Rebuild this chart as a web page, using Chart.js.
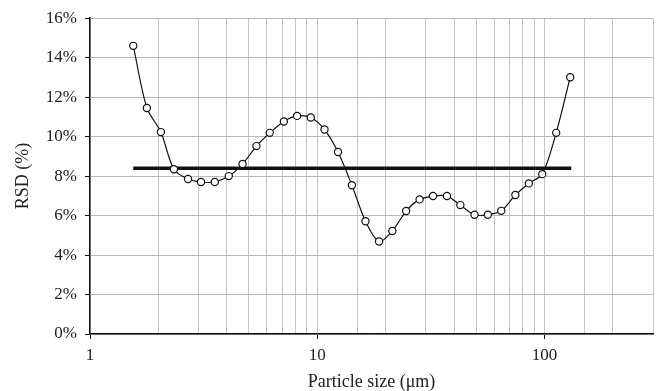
<!DOCTYPE html>
<html>
<head>
<meta charset="utf-8">
<script src="https://cdn.jsdelivr.net/npm/chart.js@4/dist/chart.umd.min.js"></script>
<style>
  html, body { margin: 0; padding: 0; background: #fff; }
  #wrap { width: 659px; height: 391px; position: relative; }
</style>
</head>
<body>
<div id="wrap"><canvas id="myChart"></canvas></div>
<script>
// particle size (um) and RSD (%)
const sizes = [1.55, 1.78, 2.05, 2.34, 2.70, 3.08, 3.54, 4.08, 4.69, 5.40, 6.18, 7.13, 8.15, 9.36,
  10.76, 12.34, 14.2, 16.3, 18.7, 21.4, 24.6, 28.2, 32.3, 37.2, 42.6, 49.2, 56.3, 64.5, 74.4, 85.3,
  97.7, 112.5, 129.7]
const rsd = [14.6, 11.45, 10.23, 8.35, 7.85, 7.7, 7.7, 8.0, 8.61, 9.52, 10.19, 10.77, 11.05, 10.97,
  10.36, 9.22, 7.54, 5.71, 4.69, 5.22, 6.23, 6.82, 6.99, 6.99, 6.53, 6.04, 6.04, 6.24, 7.04, 7.63,
  8.1, 10.19, 13.01]
const meanRsd = 8.4
const meanRange = [1.55, 131]
const xLabels = [1, 10, 100]

;(function() {
  const ctx = document.getElementById('myChart').getContext('2d')
  const serif = "'Liberation Serif', 'Times New Roman', serif"

  let chart = new Chart(ctx, {
    type: 'scatter',
    data: {
      datasets: [
        {
          label: 'RSD',
          data: sizes.map((s, i) => ({ x: s, y: rsd[i] })),
          showLine: true,
          borderColor: '#111',
          borderWidth: 1.2,
          tension: 0.3,
          pointRadius: 3.6,
          pointBorderWidth: 1.2,
          pointBackgroundColor: '#fff',
          pointBorderColor: '#111'
        },
        {
          label: 'mean',
          data: meanRange.map(x => ({ x: x, y: meanRsd })),
          showLine: true,
          borderColor: '#111',
          borderWidth: 3.5,
          pointRadius: 0
        }
      ]
    },
    options: {
      responsive: true,
      maintainAspectRatio: false,
      animation: false,
      layout: { padding: { top: 18, right: 5, left: 0, bottom: 0 } },
      plugins: { legend: { display: false }, tooltip: { enabled: false } },
      scales: {
        x: {
          type: 'logarithmic',
          min: 1,
          max: 300,
          afterFit: (s) => { s.height = 57 },
          border: { color: '#111', width: 1.5 },
          grid: {
            color: '#c6c6c6',
            lineWidth: 1,
            tickLength: 5,
            tickColor: (c) => (c.tick && xLabels.includes(c.tick.value)) ? '#111' : 'rgba(0,0,0,0)'
          },
          ticks: {
            autoSkip: false,
            maxRotation: 0,
            padding: 6,
            color: '#222',
            font: { family: serif, size: 17 },
            callback: (v) => xLabels.includes(v) ? String(v) : ''
          },
          title: {
            display: true,
            text: 'Particle size (μm)',
            color: '#222',
            font: { family: serif, size: 18, lineHeight: 1 },
            padding: { top: 0, bottom: 0 }
          }
        },
        y: {
          min: 0,
          max: 16,
          afterFit: (s) => { s.width = 90 },
          border: { color: '#111', width: 1.5 },
          grid: { color: '#b9b9b9', lineWidth: 1, tickLength: 5, tickColor: '#111' },
          ticks: {
            stepSize: 2,
            padding: 8,
            color: '#222',
            font: { family: serif, size: 17 },
            callback: (v) => v + '%'
          },
          title: {
            display: true,
            text: 'RSD (%)',
            color: '#222',
            font: { family: serif, size: 18, lineHeight: 1 },
            padding: { top: 14, bottom: 0 }
          }
        }
      }
    }
  })
})();
</script>
</body>
</html>
